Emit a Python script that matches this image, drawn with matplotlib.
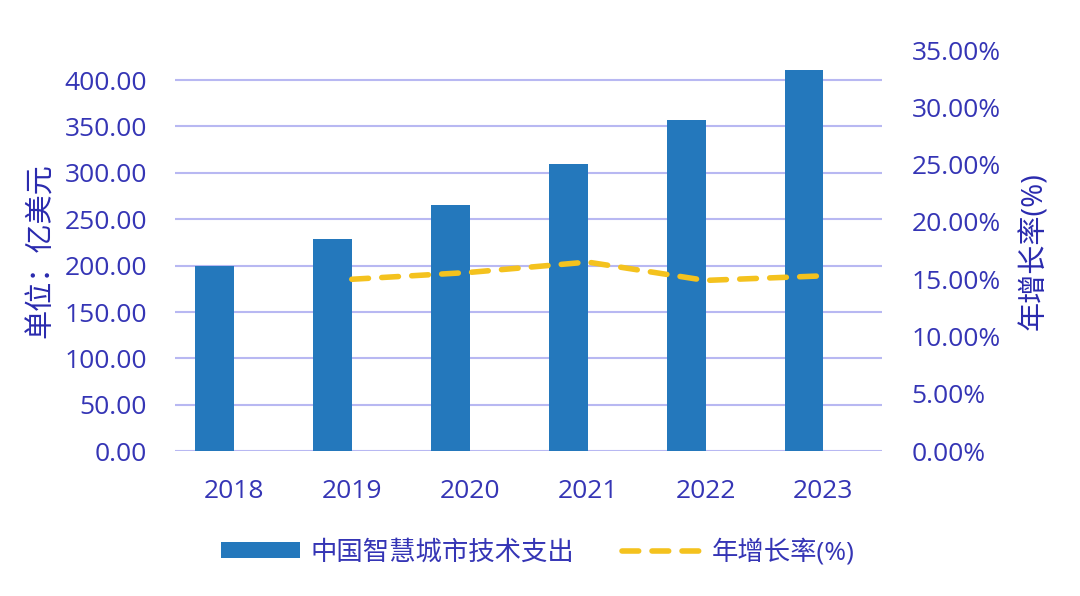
import matplotlib.pyplot as plt
import numpy as np
from matplotlib.ticker import FuncFormatter

years = ['2018', '2019', '2020', '2021', '2022', '2023']
spend = [200, 229, 265, 310, 357, 411]
growth_years = ['2019', '2020', '2021', '2022', '2023']
growth = [0.150, 0.156, 0.165, 0.149, 0.153]

txt = '#3535B5'
lab_c = '#2A2AAE'
bar_c = '#2478BC'
line_c = '#F4C21E'
grid_c = '#B8B8F2'

plt.rcParams['font.family'] = ['Open Sans', 'Noto Sans CJK SC', 'DejaVu Sans']

fig = plt.figure(figsize=(10.8, 5.96), dpi=100)
ax = fig.add_axes([0.162, 0.243, 0.655, 0.673])
ax2 = ax.twinx()

x = np.arange(len(years))
bw = 0.33
b = ax.bar(x - bw / 2, spend, width=bw, color=bar_c, label='中国智慧城市技术支出', zorder=3)

gx = [years.index(y) for y in growth_years]
ln, = ax2.plot(gx, growth, color=line_c, lw=4, dashes=(3, 2.4), dash_capstyle='round',
               solid_capstyle='round', label='年增长率(%)', zorder=4)

ax.set_xlim(-0.5, 5.5)
ax.set_ylim(0, 400 * 401 / 371)
ax.set_yticks(np.arange(0, 401, 50))
ax.yaxis.set_major_formatter(FuncFormatter(lambda v, p: f'{v:.2f}'))
ax.grid(axis='y', color=grid_c, lw=1.5, zorder=0)
ax.set_axisbelow(True)
ax.set_xticks(x)
ax.set_xticklabels(years)

ax2.set_ylim(0, 0.35)
ax2.set_yticks(np.arange(0, 0.351, 0.05))
ax2.yaxis.set_major_formatter(FuncFormatter(lambda v, p: f'{v * 100:.2f}%'))

for a in (ax, ax2):
    for s in a.spines.values():
        s.set_visible(False)
    a.tick_params(length=0, labelsize=19, labelcolor=txt)
ax.tick_params(axis='y', pad=20)
ax.tick_params(axis='x', pad=20)
ax2.tick_params(axis='y', pad=21)

ax.set_ylabel('单位：亿美元', fontsize=21, color=lab_c, labelpad=6)
ax2.set_ylabel('年增长率(%)', fontsize=21, color=lab_c, rotation=90, labelpad=14)

ax2.set_zorder(ax.get_zorder() + 1)
ax2.patch.set_visible(False)

fig.legend([b, ln], ['中国智慧城市技术支出', '年增长率(%)'], loc='center',
           bbox_to_anchor=(0.498, 0.074), ncol=2, frameon=False, fontsize=19,
           labelcolor=txt, handlelength=3.0, handleheight=0.6, columnspacing=1.8,
           handletextpad=0.4)

fig.savefig('out.png', dpi=100)
